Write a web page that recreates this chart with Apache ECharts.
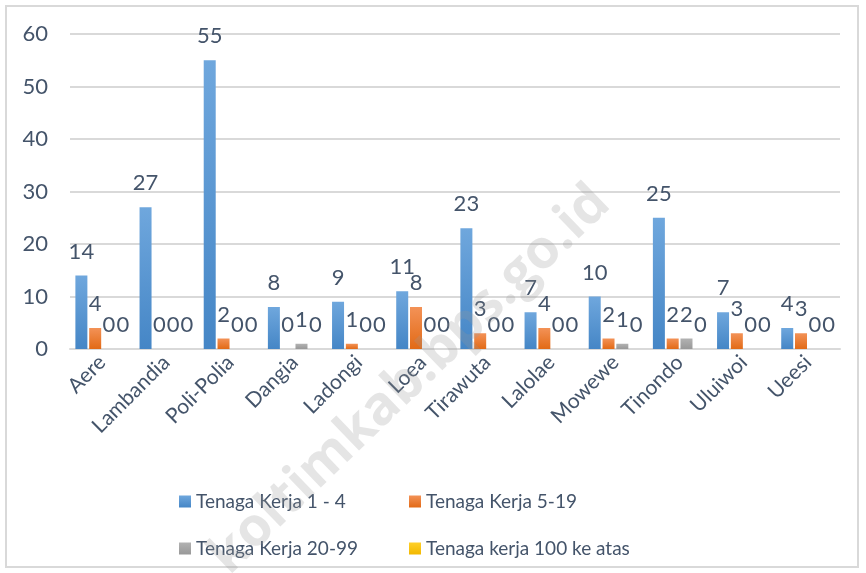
<!DOCTYPE html>
<html>
<head>
<meta charset="utf-8">
<script src="https://cdn.jsdelivr.net/npm/echarts@6/dist/echarts.min.js"></script>
<style>
html,body{margin:0;padding:0;background:#fff;}
#main{width:866px;height:573px;}
</style>
</head>
<body>
<div id="main"></div>
<script>
var xData = ['Aere','Lambandia','Poli-Polia','Dangia','Ladongi','Loea','Tirawuta','Lalolae','Mowewe','Tinondo','Uluiwoi','Ueesi'];
var yKerja1 = [14,27,55,8,9,11,23,7,10,25,7,4];
var yKerja5 = [4,0,2,0,1,8,3,4,2,2,3,3];
var yKerja20 = [0,0,0,1,0,0,0,0,1,2,0,0];
var yKerja100 = [0,0,0,0,0,0,0,0,0,0,0,0];
var seriesNames = ['Tenaga Kerja 1 - 4','Tenaga Kerja 5-19','Tenaga Kerja 20-99','Tenaga kerja 100 ke atas'];
var yTicks = [0,10,20,30,40,50,60];

var myChart = echarts.init(document.getElementById('main'));
var txtColor = '#44546a';
var fontName = 'Lato';

function grad(top, bottom){
    return new echarts.graphic.LinearGradient(0,0,0,1,[
        {offset:0,color:top},
        {offset:1,color:bottom}
    ]);
}
function makeSeries(name, data, color){
    return {
        name:name,
        type:'bar',
        data:data,
        barWidth:12,
        barGap:'15%',
        itemStyle:{color:color},
        label:{
            show:true,
            position:'top',
            distance:13,
            fontSize:22,
            fontFamily:fontName,
            color:txtColor
        }
    };
}

var option = {
    animation:false,
    backgroundColor:'#fff',
    textStyle:{fontFamily:fontName},
    grid:{left:70,right:26,top:34,bottom:224},
    legend:[
        {
            left:174, top:487, orient:'vertical', itemGap:28,
            itemWidth:12, itemHeight:12, icon:'rect',
            textStyle:{fontSize:19,color:txtColor,fontFamily:fontName},
            data:[seriesNames[0],seriesNames[2]]
        },
        {
            left:404, top:487, orient:'vertical', itemGap:28,
            itemWidth:12, itemHeight:12, icon:'rect',
            textStyle:{fontSize:19,color:txtColor,fontFamily:fontName},
            data:[seriesNames[1],seriesNames[3]]
        }
    ],
    xAxis:{
        type:'category',
        data:xData,
        axisLine:{lineStyle:{color:'#d9d9d9',width:2}},
        axisTick:{show:false},
        axisLabel:{rotate:45,fontSize:21,color:txtColor,fontFamily:fontName,margin:10,interval:0}
    },
    yAxis:{
        type:'value',
        min:yTicks[0],
        max:yTicks[yTicks.length-1],
        interval:10,
        axisLine:{show:false},
        axisTick:{show:false},
        splitLine:{lineStyle:{color:'#d9d9d9',width:2}},
        axisLabel:{fontSize:22,color:txtColor,fontFamily:fontName,margin:22}
    },
    series:[
        makeSeries(seriesNames[0], yKerja1, grad('#6fa7dd','#4586c6')),
        makeSeries(seriesNames[1], yKerja5, grad('#f39257','#e26a16')),
        makeSeries(seriesNames[2], yKerja20, grad('#b2b2b2','#989898')),
        makeSeries(seriesNames[3], yKerja100, grad('#ffd02a','#f2b800'))
    ],
    graphic:[
        {
            type:'rect', silent:true, z:-10,
            shape:{x:6,y:6,width:852,height:561},
            style:{fill:'#fff',stroke:'#d9d9d9',lineWidth:2}
        },
        {
            type:'text', silent:true, z:100,
            x:410, y:380, rotation:44*Math.PI/180,
            style:{
                text:'koltimkab.bps.go.id',
                fontSize:54, fontWeight:'bold', fontFamily:'Open Sans',
                fill:'rgba(150,150,150,0.25)',
                align:'center', verticalAlign:'middle'
            }
        }
    ]
};
myChart.setOption(option);
</script>
</body>
</html>
